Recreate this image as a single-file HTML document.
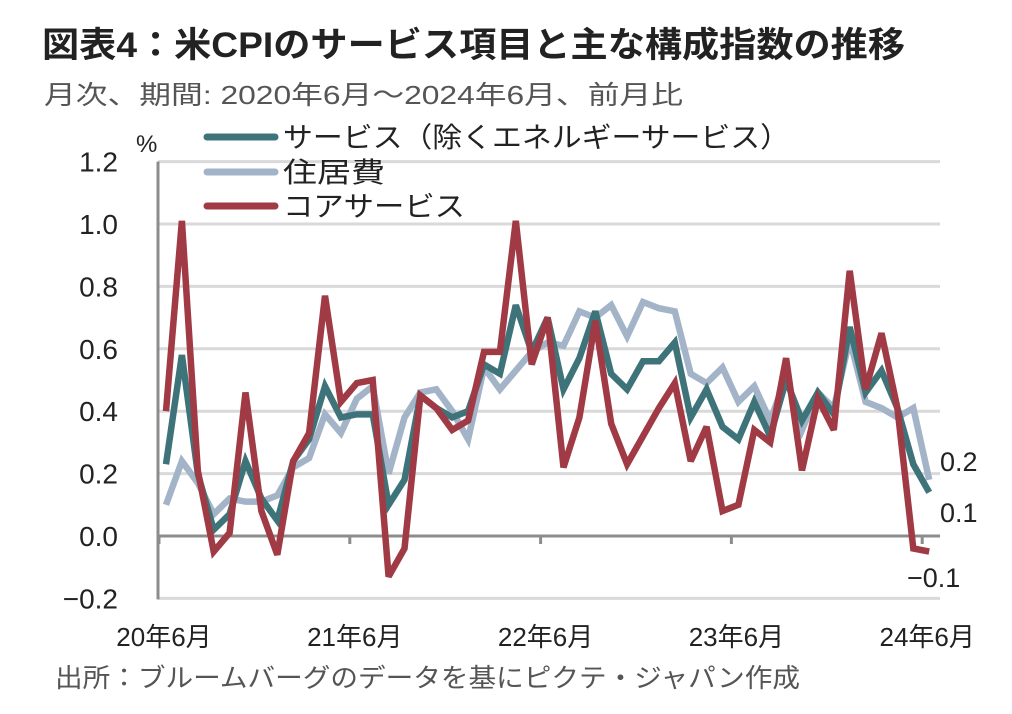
<!DOCTYPE html>
<html><head><meta charset="utf-8"><style>
body{margin:0;background:#fff;width:1012px;height:709px;overflow:hidden}
svg text{font-family:"Liberation Sans","Noto Sans CJK JP",sans-serif}
</style></head><body>
<svg width="1012" height="709">
<text x="42" y="57" font-size="35" font-weight="bold" fill="#222" textLength="863" lengthAdjust="spacingAndGlyphs">図表4：米CPIのサービス項目と主な構成指数の推移</text>
<text x="44" y="104" font-size="26" fill="#555" textLength="639" lengthAdjust="spacingAndGlyphs">月次、期間: 2020年6月～2024年6月、前月比</text>
<text x="136" y="152" font-size="24" fill="#222">%</text>
<g id="grid"></g>
<g id="ylabels"></g>
<g id="xlabels"></g>
<g id="series"></g>
<g>
<line x1="207" y1="137" x2="275" y2="137" stroke="#3e7479" stroke-width="7" stroke-linecap="round"/>
<text x="283" y="147" font-size="28" fill="#222" textLength="507" lengthAdjust="spacingAndGlyphs">サービス（除くエネルギーサービス）</text>
<line x1="207" y1="172" x2="275" y2="172" stroke="#a3b3c8" stroke-width="7" stroke-linecap="round"/>
<text x="283" y="182" font-size="28" fill="#222" textLength="102" lengthAdjust="spacingAndGlyphs">住居費</text>
<line x1="207" y1="206" x2="275" y2="206" stroke="#a03a45" stroke-width="7" stroke-linecap="round"/>
<text x="283" y="216" font-size="28" fill="#222" textLength="182" lengthAdjust="spacingAndGlyphs">コアサービス</text>
</g>
<text x="940" y="471" font-size="27" fill="#222">0.2</text>
<text x="940" y="522" font-size="27" fill="#222">0.1</text>
<text x="907" y="587" font-size="27" fill="#222">−0.1</text>
<text x="55" y="687" font-size="26" fill="#555" textLength="745" lengthAdjust="spacingAndGlyphs">出所：ブルームバーグのデータを基にピクテ・ジャパン作成</text>
</svg>
<script>
const yTicks=[1.2,1.0,0.8,0.6,0.4,0.2,0.0,-0.2];
const yTickLabels=["1.2","1.0","0.8","0.6","0.4","0.2","0.0","−0.2"];
const xTickIdx=[0,12,24,36,48];
const xTickLabels=["20年6月","21年6月","22年6月","23年6月","24年6月"];
const services=[0.23,0.58,0.20,0.02,0.07,0.24,0.12,0.05,0.24,0.31,0.48,0.38,0.39,0.39,0.10,0.18,0.45,0.41,0.38,0.40,0.55,0.52,0.74,0.59,0.70,0.47,0.57,0.72,0.52,0.47,0.56,0.56,0.62,0.38,0.47,0.35,0.31,0.43,0.32,0.50,0.37,0.46,0.39,0.67,0.46,0.53,0.41,0.23,0.14];
const shelter=[0.10,0.24,0.17,0.07,0.12,0.11,0.11,0.13,0.22,0.25,0.39,0.33,0.44,0.48,0.20,0.38,0.46,0.47,0.40,0.31,0.54,0.47,0.53,0.59,0.62,0.61,0.72,0.70,0.74,0.64,0.75,0.73,0.72,0.52,0.49,0.54,0.43,0.48,0.37,0.51,0.34,0.46,0.41,0.63,0.43,0.41,0.38,0.41,0.18];
const core=[0.40,1.01,0.21,-0.05,0.01,0.46,0.08,-0.06,0.24,0.33,0.77,0.43,0.49,0.50,-0.13,-0.04,0.45,0.41,0.34,0.37,0.59,0.59,1.01,0.55,0.70,0.22,0.38,0.69,0.36,0.23,0.32,0.41,0.49,0.24,0.35,0.08,0.10,0.34,0.30,0.57,0.21,0.44,0.34,0.85,0.47,0.65,0.41,-0.04,-0.05];
const NS="http://www.w3.org/2000/svg";
const X0=166,DX=15.9,L=158,R=940;
const xs=i=>X0+i*DX;
const ys=v=>536-v*312;
function mk(t,a,p){const e=document.createElementNS(NS,t);for(const k in a)e.setAttribute(k,a[k]);p.appendChild(e);return e;}
const g=document.getElementById('grid');
yTicks.forEach(v=>{
  const ln=mk('line',{x1:L,x2:R,y1:ys(v),y2:ys(v),stroke:v===0?'#8c8c8c':'#d9d9d9','stroke-width':3},g);
  
  
});
const ax=mk('line',{x1:L,x2:L,y1:ys(1.2),y2:ys(-0.2)+1,stroke:'#8c8c8c','stroke-width':3},g);


xTickIdx.forEach(i=>{
  const t=mk('line',{x1:xs(i)-7,x2:xs(i)-7,y1:ys(0),y2:ys(0)+8,stroke:'#8c8c8c','stroke-width':3},g);
  
  
});
const yl=document.getElementById('ylabels');
yTicks.forEach((v,k)=>{
  const t=mk('text',{x:118,y:ys(v)+10,'font-size':28,'text-anchor':'end',fill:'#222'},yl);
  t.textContent=yTickLabels[k];
  
  
});
const xl=document.getElementById('xlabels');
xTickIdx.forEach((i,k)=>{
  const t=mk('text',{x:xs(i)-2,y:646,'font-size':26,'text-anchor':'middle',fill:'#222'},xl);
  t.textContent=xTickLabels[k];
  
  
});
const sg=document.getElementById('series');
[[shelter,'#a3b3c8','shelter-line'],[services,'#3e7479','services-line'],[core,'#a03a45','core-services-line']].forEach(([d,c,n])=>{
  const p=mk('polyline',{points:d.map((v,i)=>xs(i)+','+ys(v)).join(' '),fill:'none',stroke:c,'stroke-width':6.5,'stroke-linejoin':'miter','stroke-miterlimit':3},sg);
  
  
});
</script>
</body></html>
